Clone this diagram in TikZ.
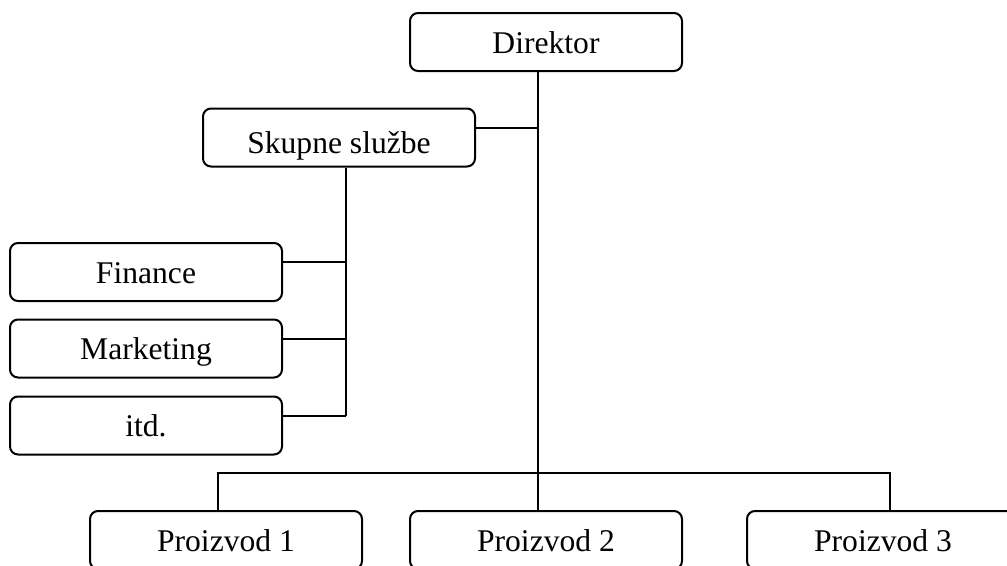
\documentclass[tikz,border=0pt]{standalone}
\usepackage{fontspec}
\setmainfont{Liberation Serif}
\begin{document}
\begin{tikzpicture}[x=0.75pt,y=-0.75pt,
  unit/.style={draw, line width=1.5pt, rounded corners=6pt,
    minimum width=204pt, minimum height=43.5pt, inner sep=0pt,
    text height=17.8pt, text depth=1.2pt,
    font=\fontsize{23.7}{28}\selectfont},
  link/.style={line width=1.5pt}]
  \path[use as bounding box, clip] (0,0) rectangle (1007,565);

  % boxes
  \node[unit] (dir) at (546,42) {Direktor};
  \node[unit] (sk)  at (339,137.5) {\raisebox{-3.5pt}{Skupne službe}};
  \node[unit] (fin) at (146,272) {Finance};
  \node[unit] (mkt) at (146,348.5) {Marketing};
  \node[unit] (etc) at (146,425.5) {itd.};
  \node[unit] (p1)  at (226,540) {Proizvod 1};
  \node[unit] (p2)  at (546,540) {Proizvod 2};
  \node[unit] (p3)  at (883,540) {Proizvod 3};

  % attachment points, slightly off the box centres
  \coordinate (trunk) at ([xshift=-6pt]dir.south);
  \coordinate (skR)   at ([yshift=7pt]sk.east);
  \coordinate (skB)   at ([xshift=5.25pt]sk.south);
  \coordinate (finR)  at ([yshift=7.5pt]fin.east);
  \coordinate (mktR)  at ([yshift=7.5pt]mkt.east);
  \coordinate (etcR)  at ([yshift=7.5pt]etc.east);
  \coordinate (d1)    at ([xshift=-6pt]p1.north);
  \coordinate (d3)    at ([xshift=5.25pt]p3.north);
  \coordinate (bus)   at (0,473);

  % trunk from the director down to the product bus
  \draw[link] (trunk) -- (trunk |- p2.north);
  \draw[link] (skR) -- (trunk |- skR);

  % shared services branch
  \draw[link] (skB) -- (skB |- etcR);
  \draw[link] (finR) -- (skB |- finR);
  \draw[link] (mktR) -- (skB |- mktR);
  \draw[link] (etcR) -- (skB |- etcR);

  % product bus
  \draw[link] (d1) -- (d1 |- bus) -- (d3 |- bus) -- (d3);
\end{tikzpicture}
\end{document}
